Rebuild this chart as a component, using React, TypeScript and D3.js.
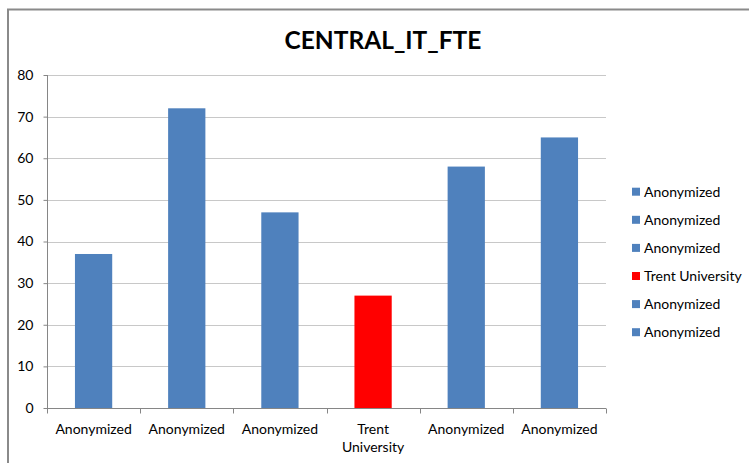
import React, { useRef, useEffect } from 'react';
import * as d3 from 'd3';

const categories = ['Anonymized', 'Anonymized', 'Anonymized', 'Trent University', 'Anonymized', 'Anonymized'];
const values = [37, 72, 47, 27, 58, 65];
const highlight = 'Trent University';
const yTicks = [0, 10, 20, 30, 40, 50, 60, 70, 80];

const BLUE = '#4f81bd';
const RED = '#ff0000';
const FONT = 'Lato, Calibri, sans-serif';

const App = () => {
  const svgRef = useRef<SVGSVGElement>(null);

  useEffect(() => {
    const width = 749;
    const height = 463;
    const svg = d3.select(svgRef.current);
    svg.selectAll('*').remove();

    svg.append('rect').attr('width', width).attr('height', height).attr('fill', '#fff');

    // outer chart border (runs off the right/bottom edge)
    svg.append('path')
      .attr('d', `M8,${height + 5}V9.5H${width + 5}`)
      .attr('fill', 'none')
      .attr('stroke', '#8a8a8a')
      .attr('stroke-width', 2);

    const left = 47, right = 606, top = 75, bottom = 408;
    const idx = categories.map((_, i) => i);

    const x = d3.scaleBand<number>().domain(idx).range([left, right]).paddingInner(0).paddingOuter(0);
    const y = d3.scaleLinear().domain([0, 80]).range([bottom, top]);
    const barW = x.bandwidth() / 2.5;

    const color = (i: number) => (categories[i] === highlight ? RED : BLUE);

    // gridlines
    svg.append('g')
      .selectAll('line')
      .data(yTicks.filter(t => t > 0))
      .join('line')
      .attr('x1', left).attr('x2', right)
      .attr('y1', d => Math.round(y(d)) + 0.5).attr('y2', d => Math.round(y(d)) + 0.5)
      .attr('stroke', '#c8c8c8');

    // bars
    svg.append('g')
      .selectAll('rect')
      .data(values)
      .join('rect')
      .attr('x', (d, i) => x(i)! + (x.bandwidth() - barW) / 2)
      .attr('width', barW)
      .attr('y', d => y(d))
      .attr('height', d => bottom - y(d))
      .attr('fill', (d, i) => color(i));

    // y axis
    const yAxis = svg.append('g')
      .attr('transform', `translate(${left + 0.5},0)`)
      .call(d3.axisLeft(y).tickValues(yTicks).tickSize(4).tickPadding(10).tickFormat(d3.format('d')));
    yAxis.select('.domain').attr('stroke', '#868686').attr('d', `M0,${top}V${bottom + 0.5}`);
    yAxis.selectAll('.tick line').attr('stroke', '#868686');
    yAxis.selectAll('.tick text').attr('fill', '#000').style('font-family', FONT).style('font-size', '14px');

    // x axis
    const xAxisG = svg.append('g').attr('transform', `translate(0,${bottom + 0.5})`);
    xAxisG.append('line').attr('x1', left).attr('x2', right).attr('stroke', '#868686');
    xAxisG.selectAll('line.tk')
      .data(d3.range(categories.length + 1))
      .join('line')
      .attr('class', 'tk')
      .attr('x1', i => Math.round(left + i * x.step()) + 0.5)
      .attr('x2', i => Math.round(left + i * x.step()) + 0.5)
      .attr('y1', 0).attr('y2', 5)
      .attr('stroke', '#868686');

    const lbl = xAxisG.selectAll('text')
      .data(categories)
      .join('text')
      .attr('text-anchor', 'middle')
      .style('font-family', FONT)
      .style('font-size', '14px')
      .attr('fill', '#000');
    lbl.each(function (d, i) {
      const words = d === highlight ? d.split(' ') : [d];
      const t = d3.select(this);
      words.forEach((w, j) => {
        t.append('tspan')
          .attr('x', x(i)! + x.bandwidth() / 2)
          .attr('y', 25 + j * 18)
          .text(w);
      });
    });

    // title
    svg.append('text')
      .attr('x', 383)
      .attr('y', 49)
      .attr('text-anchor', 'middle')
      .style('font-family', FONT)
      .style('font-weight', 'bold')
      .style('font-size', '24.5px')
      .text('CENTRAL_IT_FTE');

    // legend
    const lg = svg.append('g')
      .selectAll('g')
      .data(categories)
      .join('g')
      .attr('transform', (d, i) => `translate(632,${191.7 + i * 28.1})`);
    lg.append('rect').attr('x', 0).attr('y', -4).attr('width', 8).attr('height', 8).attr('fill', (d, i) => color(i));
    lg.append('text')
      .attr('x', 12)
      .attr('y', 5)
      .style('font-family', FONT)
      .style('font-size', '14px')
      .attr('fill', '#000')
      .text(d => d);
  }, []);

  return <svg ref={svgRef} width={749} height={463} style={{ position: 'absolute', left: 0, top: 0 }} />;
};

export default App;
